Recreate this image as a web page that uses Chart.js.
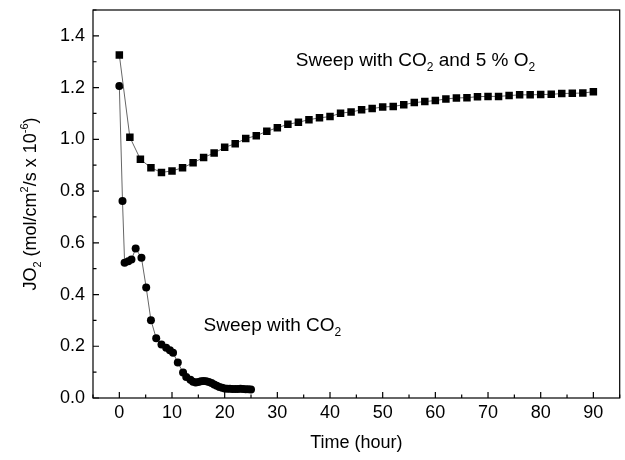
<!DOCTYPE html>
<html>
<head>
<meta charset="utf-8">
<script src="https://cdn.jsdelivr.net/npm/chart.js@4/dist/chart.umd.min.js"></script>
<style>
  body { margin: 0; background: #fff; }
  #wrap { width: 625px; height: 460px; }
</style>
</head>
<body>
<div id="wrap"><canvas id="chart" width="625" height="460"></canvas></div>
<script>
// Sweep with CO2 and 5 % O2 (squares)
const o2Time = [0, 2, 4, 6, 8, 10, 12, 14, 16, 18, 20, 22, 24, 26, 28, 30, 32, 34, 36, 38, 40,
  42, 44, 46, 48, 50, 52, 54, 56, 58, 60, 62, 64, 66, 68, 70, 72, 74, 76, 78, 80, 82, 84, 86, 88, 90];
const o2Flux = [1.326, 1.008, 0.923, 0.890, 0.872, 0.878, 0.890, 0.909, 0.930, 0.947, 0.969, 0.983,
  1.003, 1.014, 1.031, 1.045, 1.058, 1.066, 1.076, 1.083, 1.088, 1.101, 1.106, 1.114, 1.119, 1.125,
  1.127, 1.134, 1.142, 1.146, 1.150, 1.156, 1.160, 1.161, 1.165, 1.166, 1.166, 1.169, 1.172, 1.172,
  1.173, 1.174, 1.177, 1.178, 1.179, 1.184];

// Sweep with CO2 (circles)
const co2Time = [0, 0.6, 1.0, 1.7, 2.3, 3.1, 4.2, 5.1, 6.0, 7.0, 8.0, 8.9, 9.6, 10.2, 11.1, 12.1,
  12.7, 13.5, 14, 14.5, 15, 15.5, 16, 16.5, 17, 17.5, 18, 18.5, 19, 19.5, 20, 20.5, 21, 21.5, 22,
  22.5, 23, 23.5, 24, 24.5, 25];
const co2Flux = [1.206, 0.762, 0.523, 0.529, 0.535, 0.578, 0.542, 0.427, 0.301, 0.231, 0.207, 0.194,
  0.185, 0.175, 0.137, 0.099, 0.081, 0.071, 0.063, 0.060, 0.062, 0.065, 0.066, 0.065, 0.062, 0.058,
  0.052, 0.047, 0.043, 0.040, 0.037, 0.036, 0.036, 0.035, 0.035, 0.035, 0.036, 0.035, 0.034, 0.034,
  0.033];

const xTicksMajor = [0, 10, 20, 30, 40, 50, 60, 70, 80, 90];
const yTicksMajor = [0.0, 0.2, 0.4, 0.6, 0.8, 1.0, 1.2, 1.4];

const FONT = 'Arial, "Liberation Sans", sans-serif';

function toPoints(xs, ys) {
  return xs.map((x, i) => ({ x: x, y: ys[i] }));
}

// draws text with sub/superscripts; parts = [[text, shift]] shift 1 = sub, -1 = sup
function drawRich(ctx, parts, x, y, size, align) {
  const small = Math.round(size * 0.62);
  let total = 0;
  parts.forEach(p => {
    ctx.font = (p[1] ? small : size) + 'px ' + FONT;
    total += ctx.measureText(p[0]).width;
  });
  let cx = align === 'center' ? x - total / 2 : x;
  ctx.textBaseline = 'alphabetic';
  ctx.textAlign = 'left';
  parts.forEach(p => {
    ctx.font = (p[1] ? small : size) + 'px ' + FONT;
    const dy = p[1] === 1 ? size * 0.3 : p[1] === -1 ? -size * 0.42 : 0;
    ctx.fillText(p[0], cx, y + dy);
    cx += ctx.measureText(p[0]).width;
  });
}

const framePlugin = {
  id: 'frame',
  afterDraw(chart) {
    const ctx = chart.ctx;
    const a = chart.chartArea;
    const xs = chart.scales.x, ys = chart.scales.y;
    ctx.save();
    ctx.strokeStyle = '#000';
    ctx.lineWidth = 1.2;
    ctx.strokeRect(a.left, a.top, a.right - a.left, a.bottom - a.top);
    ctx.beginPath();
    // inward ticks on bottom axis
    for (let v = -5; v <= 95; v += 5) {
      const px = xs.getPixelForValue(v);
      const len = xTicksMajor.includes(v) ? 6 : 3.5;
      ctx.moveTo(px, a.bottom);
      ctx.lineTo(px, a.bottom - len);
    }
    // inward ticks on left axis
    for (let i = 0; i <= 15; i++) {
      const v = i / 10;
      const py = ys.getPixelForValue(v);
      const len = i % 2 === 0 ? 6 : 3.5;
      ctx.moveTo(a.left, py);
      ctx.lineTo(a.left + len, py);
    }
    ctx.stroke();

    ctx.fillStyle = '#000';
    drawRich(ctx, [['Sweep with CO', 0], ['2', 1], [' and 5 % O', 0], ['2', 1]],
      xs.getPixelForValue(33.5), ys.getPixelForValue(1.285), 19, 'left');
    drawRich(ctx, [['Sweep with CO', 0], ['2', 1]],
      xs.getPixelForValue(16), ys.getPixelForValue(0.26), 19, 'left');

    ctx.translate(36, (a.top + a.bottom) / 2);
    ctx.rotate(-Math.PI / 2);
    drawRich(ctx, [['JO', 0], ['2', 1], [' (mol/cm', 0], ['2', -1], ['/s x 10', 0], ['-6', -1], [')', 0]],
      0, 0, 18, 'center');
    ctx.restore();
  }
};

new Chart(document.getElementById('chart'), {
  type: 'scatter',
  data: {
    datasets: [
      {
        label: 'Sweep with CO2 and 5 % O2',
        data: toPoints(o2Time, o2Flux),
        showLine: true,
        borderColor: '#666',
        borderWidth: 1,
        pointStyle: 'rect',
        pointRadius: 5.3,
        pointBackgroundColor: '#000',
        pointBorderColor: '#000',
        pointBorderWidth: 0
      },
      {
        label: 'Sweep with CO2',
        data: toPoints(co2Time, co2Flux),
        showLine: true,
        borderColor: '#666',
        borderWidth: 1,
        pointStyle: 'circle',
        pointRadius: 4,
        pointBackgroundColor: '#000',
        pointBorderColor: '#000',
        pointBorderWidth: 0
      }
    ]
  },
  options: {
    responsive: false,
    animation: false,
    layout: { padding: { top: 10, right: 1.5, left: 0, bottom: 0 } },
    plugins: {
      legend: { display: false },
      tooltip: { enabled: false }
    },
    scales: {
      x: {
        type: 'linear',
        min: -5,
        max: 95,
        grid: { display: false, drawTicks: false },
        border: { display: false },
        ticks: {
          stepSize: 5,
          color: '#000',
          padding: 4,
          maxRotation: 0,
          autoSkip: false,
          font: { family: FONT, size: 18 },
          callback: v => xTicksMajor.includes(v) ? String(v) : ''
        },
        title: {
          display: true,
          text: 'Time (hour)',
          color: '#000',
          font: { family: FONT, size: 18 },
          padding: { top: 4, bottom: 6 }
        },
        afterFit: s => { s.height = 62; s.paddingLeft = 0; s.paddingRight = 0; }
      },
      y: {
        min: 0,
        max: 1.5,
        grid: { display: false, drawTicks: false },
        border: { display: false },
        ticks: {
          stepSize: 0.1,
          color: '#000',
          padding: 8,
          autoSkip: false,
          font: { family: FONT, size: 18 },
          callback: v => {
            const r = Math.round(v * 10);
            return r % 2 === 0 && yTicksMajor.includes(r / 10) ? (r / 10).toFixed(1) : '';
          }
        },
        afterFit: s => { s.width = 93; s.paddingTop = 0; s.paddingBottom = 0; }
      }
    }
  },
  plugins: [framePlugin]
});
</script>
</body>
</html>
